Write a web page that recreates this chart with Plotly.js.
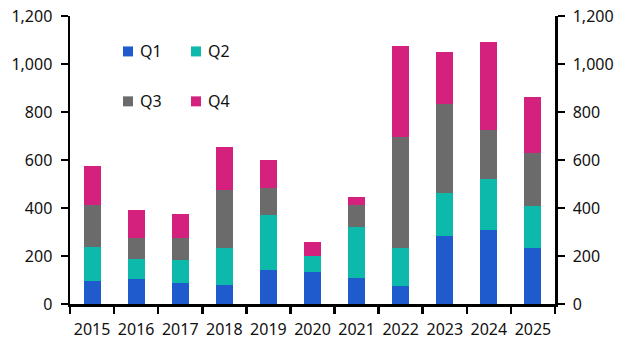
<!DOCTYPE html>
<html><head><meta charset="utf-8">
<script src="https://cdn.plot.ly/plotly-3.0.1.min.js"></script>
<style>html,body{margin:0;padding:0;background:#fff}#chart{width:630px;height:355px}</style>
</head><body><div id="chart"></div>
<script>
const years = ['2015','2016','2017','2018','2019','2020','2021','2022','2023','2024','2025'];
const q1 = [96, 104, 87, 79, 141, 133, 108, 75, 283, 308, 233];
const q2 = [141, 83, 96, 154, 229, 67, 212, 158, 179, 212, 175];
const q3 = [175, 90, 94, 241, 113, 0, 92, 462, 370, 204, 220];
const q4 = [162, 114, 97, 179, 116, 58, 33, 382, 216, 366, 233];
const seriesNames = ['Q1','Q2','Q3','Q4'];
const yTicks = [0, 200, 400, 600, 800, 1000, 1200];

const colors = ['#1f5bcc', '#0db9ab', '#6b6b6b', '#d4217e'];
const font = {family:'"Noto Sans", "Open Sans", sans-serif', size:16, color:'#111'};
const values = [q1, q2, q3, q4];

const traces = seriesNames.map((n, i) => ({type:'bar', name:n, x:years, y:values[i], marker:{color:colors[i]}, showlegend:false}));
traces.push({type:'scatter', mode:'markers', x:years, y:q1, yaxis:'y2', marker:{opacity:0}, showlegend:false, hoverinfo:'skip'});

// manual legend (2x2), positions in pixels converted to paper coords
const plotL = 70, plotR = 555, plotT = 15.5, plotB = 304;
const px = x => (x - plotL) / (plotR - plotL);
const py = y => (plotB - y) / (plotB - plotT);
const legCols = [123, 191], legRows = [51, 101];
const shapes = [], annotations = [];
seriesNames.forEach((n, i) => {
  const cx = legCols[i % 2], cy = legRows[Math.floor(i / 2)];
  shapes.push({type:'rect', xref:'paper', yref:'paper', x0:px(cx), x1:px(cx + 10), y0:py(cy + 5), y1:py(cy - 5), fillcolor:colors[i], line:{width:0}});
  annotations.push({xref:'paper', yref:'paper', x:px(cx + 15), y:py(cy), xanchor:'left', yanchor:'middle', text:n, showarrow:false, font:font});
});

const yax = {
  range:[0,1200], tickvals:yTicks, tickformat:',.0f', showgrid:false, zeroline:false,
  showline:true, linecolor:'#000', linewidth:2.5, ticks:'outside', ticklen:7, tickwidth:2.5, tickcolor:'#000',
  tickfont:font, fixedrange:true, ticklabelstandoff:5
};

const layout = {
  width:630, height:355,
  margin:{l:70, r:75, t:15.5, b:51, pad:0},
  paper_bgcolor:'#fff', plot_bgcolor:'#fff',
  barmode:'stack', bargap:0.615,
  font:font,
  xaxis:{type:'category', range:[-0.5,10.5], tickson:'boundaries', ticks:'outside', ticklen:7, tickwidth:2.5, tickcolor:'#000',
    showline:true, linecolor:'#000', linewidth:2.5, showgrid:false, zeroline:false, tickfont:font, tickangle:0, ticklabelstandoff:9},
  yaxis:Object.assign({}, yax, {side:'left'}),
  yaxis2:Object.assign({}, yax, {side:'right', overlaying:'y'}),
  showlegend:false,
  shapes:shapes,
  annotations:annotations
};

Plotly.newPlot('chart', traces, layout, {staticPlot:true, displayModeBar:false});
</script></body></html>
